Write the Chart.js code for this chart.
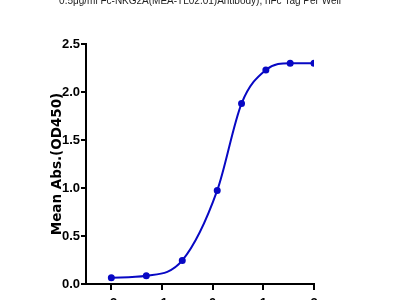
<!DOCTYPE html>
<html>
<head>
<meta charset="utf-8">
<script src="https://cdn.jsdelivr.net/npm/chart.js@4/dist/chart.umd.min.js"></script>
<style>
html,body{margin:0;padding:0;background:#fff;overflow:hidden;width:400px;height:300px;}
#wrap{position:absolute;left:0;top:0;width:400px;height:320px;}
</style>
</head>
<body>
<div id="wrap"><canvas id="c" width="400" height="320"></canvas></div>
<script>
// Data
const titleText = "0.5μg/ml Fc-NKG2A(MEA-TL02.01)Antibody), hFc Tag Per Well";
const yAxisTitle = "Mean Abs.(OD450)";
const logConc = [-2.0, -1.31, -0.6, 0.09, 0.57, 1.05, 1.53, 2.0];
const meanAbs = [0.066, 0.086, 0.245, 0.975, 1.88, 2.23, 2.30, 2.30];
const xTicks = [-2, -1, 0, 1, 2];
const yTicks = [0, 0.5, 1.0, 1.5, 2.0, 2.5];

const points = logConc.map((x, i) => ({x: x, y: meanAbs[i]}));
const blue = '#0808c4';
const tickFont = {family: '"Liberation Sans Narrow", "Liberation Sans", Arial', size: 13, weight: 'bold'};

const topTitle = {
  id: 'topTitle',
  afterDraw(chart) {
    const ctx = chart.ctx;
    ctx.save();
    ctx.font = '10px "Liberation Sans", Arial';
    ctx.fillStyle = '#222';
    ctx.textAlign = 'center';
    ctx.textBaseline = 'alphabetic';
    ctx.fillText(titleText, 200, 3.5);
    ctx.restore();
  }
};

new Chart(document.getElementById('c'), {
  type: 'line',
  data: {
    datasets: [{
      data: points,
      borderColor: blue,
      backgroundColor: blue,
      borderWidth: 2,
      pointRadius: 2.5,
      pointHoverRadius: 2.5,
      cubicInterpolationMode: 'monotone',
      fill: false
    }]
  },
  options: {
    responsive: false,
    animation: false,
    layout: {padding: {left: 0, right: 86, top: 44, bottom: 0}},
    plugins: {legend: {display: false}, tooltip: {enabled: false}, title: {display: false}},
    scales: {
      x: {
        type: 'linear',
        min: -2.5,
        max: 2,
        afterBuildTicks(s) { s.ticks = xTicks.map(v => ({value: v})); },
        afterFit(s) { s.height = 36; },
        grid: {drawOnChartArea: false, drawTicks: true, tickLength: 6, color: '#000', lineWidth: 2},
        border: {color: '#000', width: 2},
        ticks: {color: '#000', font: tickFont, padding: 6, maxRotation: 0,
          callback: v => String(v)}
      },
      y: {
        type: 'linear',
        min: 0,
        max: 2.5,
        afterBuildTicks(s) { s.ticks = yTicks.map(v => ({value: v})); },
        afterFit(s) { s.width = 86; },
        grid: {drawOnChartArea: false, drawTicks: true, tickLength: 5, color: '#000', lineWidth: 2},
        border: {color: '#000', width: 2},
        ticks: {color: '#000', font: tickFont, padding: 1, callback: v => v.toFixed(1)},
        title: {display: true, text: yAxisTitle, color: '#000',
          font: {family: '"DejaVu Sans", Arial', size: 13.5, weight: 'bold'},
          padding: {top: 49, bottom: 0}}
      }
    }
  },
  plugins: [topTitle]
});
</script>
</body>
</html>
